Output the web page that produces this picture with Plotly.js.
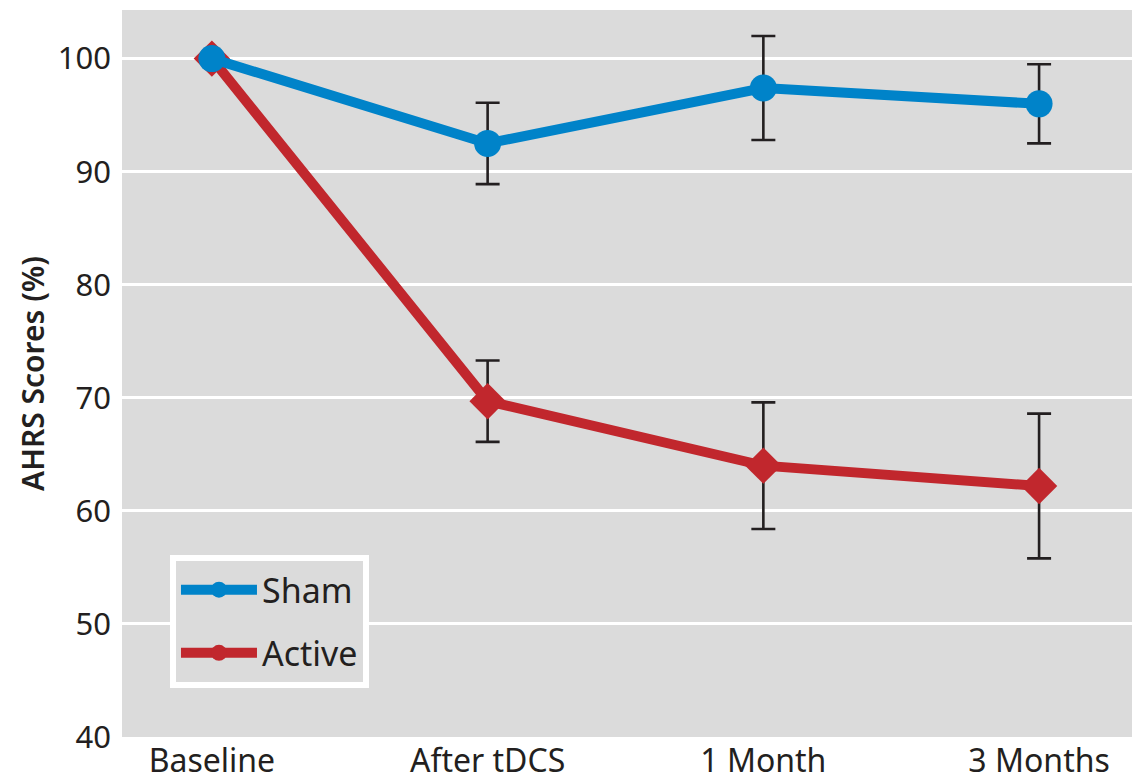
<!DOCTYPE html>
<html>
<head>
<meta charset="utf-8">
<script src="https://cdn.plot.ly/plotly-3.0.1.min.js"></script>
<style>html,body{margin:0;padding:0;background:#fff;}#chart{width:1132px;height:781px;}</style>
</head>
<body>
<div id="chart"></div>
<script>
const timepoints = ["Baseline", "After tDCS", "1 Month", "3 Months"];
const shamScores = [100, 92.5, 97.4, 96.0];
const shamErrors = [null, 3.6, 4.6, 3.5];
const activeScores = [100, 69.7, 64.0, 62.2];
const activeErrors = [null, 3.6, 5.6, 6.4];
const seriesNames = ["Sham", "Active"];
const yTicks = [40, 50, 60, 70, 80, 90, 100];

const blue = "#0083c9";
const red = "#c1272d";
const ink = "#231f20";
const errStyle = (arr) => ({type: "data", array: arr, visible: true, color: ink, thickness: 2.6, width: 12});

const traces = [
  {x: timepoints, y: activeScores, error_y: errStyle(activeErrors), type: "scatter", mode: "lines+markers",
   line: {color: red, width: 10}, marker: {symbol: "diamond", size: 28, color: red}, showlegend: false, name: seriesNames[1]},
  {x: timepoints, y: shamScores, error_y: errStyle(shamErrors), type: "scatter", mode: "lines+markers",
   line: {color: blue, width: 10}, marker: {symbol: "circle", size: 27, color: blue}, showlegend: false, name: seriesNames[0]},
  {x: [null], y: [null], type: "scatter", mode: "lines+markers", name: seriesNames[0], legendgroup: "a",
   line: {color: blue, width: 10}, marker: {symbol: "circle", size: 27, color: blue}},
  {x: [null], y: [null], type: "scatter", mode: "lines+markers", name: seriesNames[1], legendgroup: "b",
   line: {color: red, width: 10}, marker: {symbol: "circle", size: 27, color: red}}
];

const layout = {
  width: 1132, height: 781,
  margin: {l: 122, r: 0, t: 10, b: 44},
  paper_bgcolor: "#ffffff",
  plot_bgcolor: "#dbdbdb",
  font: {family: "Noto Sans, Open Sans, sans-serif", color: ink, size: 31},
  showlegend: true,
  legend: {x: 0.0475, y: 0.2503, xanchor: "left", yanchor: "top", bgcolor: "#dbdbdb", bordercolor: "#ffffff",
           borderwidth: 6, font: {size: 34, color: ink}, tracegroupgap: 16, itemwidth: 76},
  xaxis: {type: "category", range: [-0.326, 3.337], showgrid: false, zeroline: false, showline: false,
          ticks: "", ticklabelstandoff: 2, tickfont: {size: 32}, fixedrange: true},
  yaxis: {range: [40, 104.3], tickvals: yTicks, showgrid: true, gridcolor: "#ffffff", gridwidth: 3,
          zeroline: false, showline: false, ticks: "", ticklabelstandoff: 10, tickfont: {size: 31},
          title: {text: "AHRS Scores (%)", font: {size: 30, family: "Noto Sans, sans-serif", weight: 600}, standoff: 4}}
};

Plotly.newPlot("chart", traces, layout, {displayModeBar: false, staticPlot: true});
</script>
</body>
</html>
